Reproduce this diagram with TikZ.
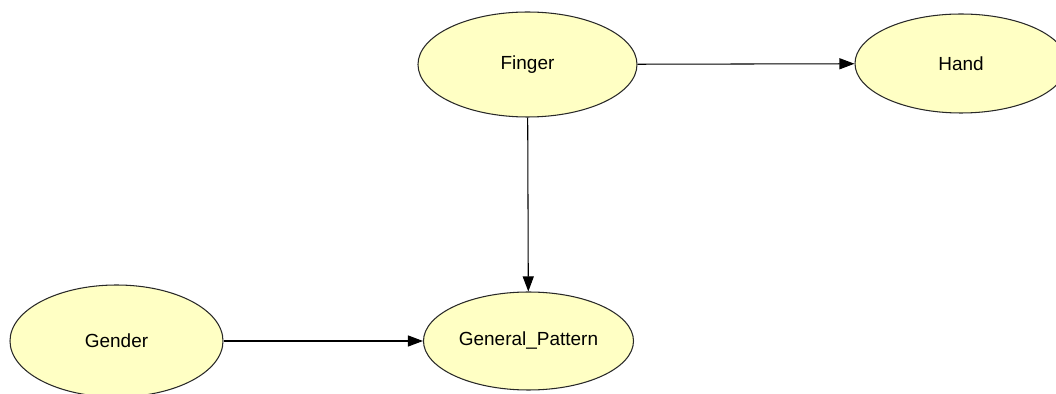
\documentclass[tikz,border=0pt]{standalone}
\usepackage{fontspec}
\setmainfont{Liberation Sans}
\usepackage{tikz}
\usetikzlibrary{arrows.meta,shapes.geometric}
\definecolor{nodeyellow}{RGB}{255,255,196}
\definecolor{nodeedge}{RGB}{40,40,40}

\begin{document}
\begin{tikzpicture}[
  font=\fontsize{10.8}{13}\selectfont,
  var/.style={ellipse, draw=nodeedge, fill=nodeyellow, line width=0.6pt,
              inner sep=0pt, text centered},
  arr/.style={-{Triangle[length=0.3cm, width=0.22cm]}, line width=0.6pt, black},
]

%% ---- canvas ----
\useasboundingbox (0,0) rectangle (21.12,7.88);

%% ---- variables ----
\node[var, minimum width=4.38cm, minimum height=2.10cm] (finger) at (10.55, 6.59) {Finger};
\node[var, minimum width=4.24cm, minimum height=1.98cm] (hand)   at (19.22, 6.61) {Hand};
\node[var, minimum width=4.26cm, minimum height=2.24cm] (gender) at (2.33, 1.06)  {Gender};
\node[var, minimum width=4.20cm, minimum height=1.96cm] (genpat) at (10.57, 1.06) {General\_Pattern};

%% ---- edges ----
\draw[arr] (finger) -- (hand);
\draw[arr] (finger) -- (genpat);
\draw[arr] (gender) -- (genpat);

\end{tikzpicture}
\end{document}
